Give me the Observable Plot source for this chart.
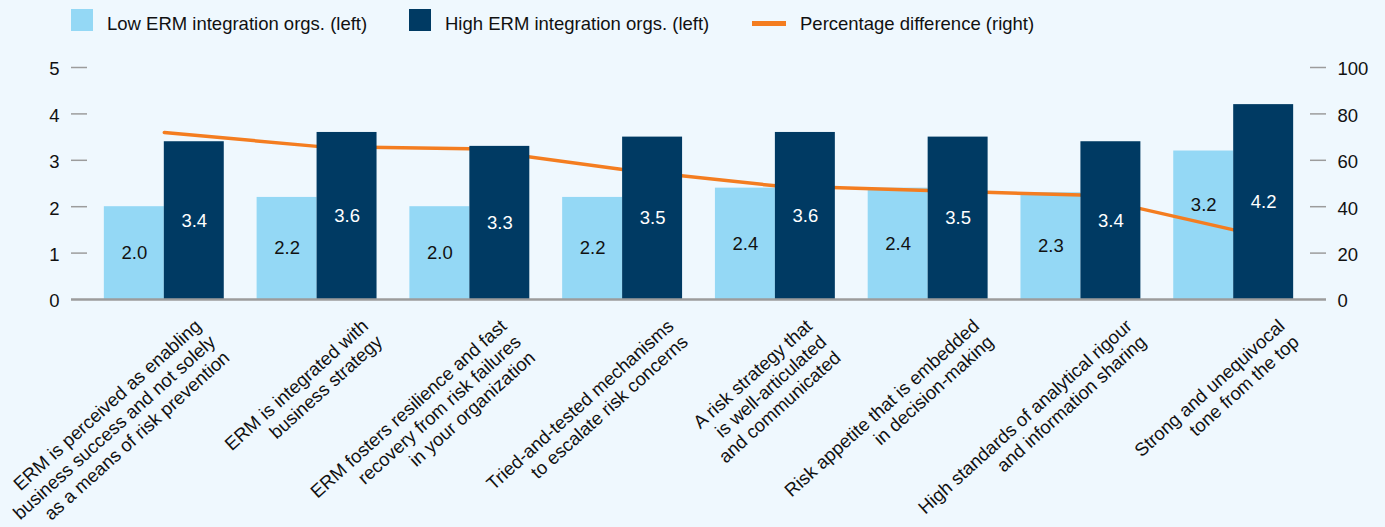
<!DOCTYPE html>
<html>
<head>
<meta charset="utf-8">
<script src="https://cdn.jsdelivr.net/npm/d3@7"></script>
<script src="https://cdn.jsdelivr.net/npm/@observablehq/plot@0.6"></script>
<style>
  html, body { margin: 0; padding: 0; background: #eff8fe; }
  body { width: 1385px; height: 527px; overflow: hidden; font-family: "Liberation Sans", Arial, Helvetica, sans-serif; }
  #legend { position: relative; height: 40px; font-size: 18.5px; color: #111; }
  #legend .sw { position: absolute; }
  #legend .lb { position: absolute; top: 12.6px; line-height: 22px; white-space: nowrap; }
</style>
</head>
<body>
<div id="legend"></div>
<div id="chart"></div>
<script>
// ---- data ----
const categories = [
  "ERM is perceived as enabling\nbusiness success and not solely\nas a means of risk prevention",
  "ERM is integrated with\nbusiness strategy",
  "ERM fosters resilience and fast\nrecovery from risk failures\nin your organization",
  "Tried-and-tested mechanisms\nto escalate risk concerns",
  "A risk strategy that\nis well-articulated\nand communicated",
  "Risk appetite that is embedded\nin decision-making",
  "High standards of analytical rigour\nand information sharing",
  "Strong and unequivocal\ntone from the top"
];
const lowValues  = [2.0, 2.2, 2.0, 2.2, 2.4, 2.4, 2.3, 3.2];
const highValues = [3.4, 3.6, 3.3, 3.5, 3.6, 3.5, 3.4, 4.2];
const pctDiff    = [72, 66, 65, 56, 49, 47, 45, 30];
const leftTicks  = [0, 1, 2, 3, 4, 5];
const rightTickLabels = [0, 20, 40, 60, 80, 100];
const seriesNames = ["Low ERM integration orgs. (left)", "High ERM integration orgs. (left)", "Percentage difference (right)"];

// ---- styles ----
const LIGHT = "#94d8f5", DARK = "#003a63", ORANGE = "#f47d20", GREY = "#9c9c9c";
const FONT = 18.5;
const LINE_H = 1.15;
const ROT = -42;

// legend
const legend = document.getElementById("legend");
const legendItems = [
  {sw: {left: 71, top: 9, width: 22, height: 22, background: LIGHT}, lbLeft: 107},
  {sw: {left: 409, top: 9, width: 22, height: 22, background: DARK}, lbLeft: 445},
  {sw: {left: 752, top: 21, width: 34, height: 5, background: ORANGE}, lbLeft: 800}
];
legendItems.forEach((it, i) => {
  const s = document.createElement("div");
  s.className = "sw";
  Object.entries(it.sw).forEach(([k, v]) => s.style[k] = typeof v === "number" ? v + "px" : v);
  legend.appendChild(s);
  const l = document.createElement("span");
  l.className = "lb";
  l.style.left = it.lbLeft + "px";
  l.textContent = seriesNames[i];
  legend.appendChild(l);
});

// right-axis values are drawn on the left scale (100 ↔ 5)
const RIGHT_TO_LEFT = leftTicks[leftTicks.length - 1] / rightTickLabels[rightTickLabels.length - 1];

// table
const data = categories.map((c, i) => ({category: c, low: lowValues[i], high: highValues[i], pct: pctDiff[i],
  nLines: c.split("\n").length}));

const W = 1385, H = 487, mL = 71, mR = 59, mT = 27, mB = 228;
const PAD = 0.215;
const frameW = W - mL - mR;
const step = frameW / (categories.length - PAD + 2 * PAD);
const half = step * (1 - PAD) / 2;
const tickLen = 16;

// low-value label position: bar middle, lifted above the line where the line crosses it
const lowLabelY = (d, i) => {
  const mid = d.low / 2;
  if (i === 0) return mid;
  const t = (step - half / 2) / step;
  const lineAt = (pctDiff[i - 1] + t * (pctDiff[i] - pctDiff[i - 1])) * RIGHT_TO_LEFT;
  return Math.abs(lineAt - mid) < 0.3 ? lineAt + 0.38 : mid;
};

// rotated category labels: rotated bounding box's top-right at a fixed offset from the band centre
const sinR = Math.sin(-ROT * Math.PI / 180);
const lineCounts = Array.from(new Set(data.map(d => d.nLines)));
const labelMarks = lineCounts.map(n => Plot.text(data.filter(d => d.nLines === n), {
  x: "category", frameAnchor: "bottom", text: "category", rotate: ROT, textAnchor: "end",
  lineAnchor: "top", lineHeight: LINE_H, dx: 70.6 - n * FONT * LINE_H * sinR, dy: 17,
  fill: "#111", fontSize: FONT
}));

const chart = Plot.plot({
  width: W, height: H,
  marginLeft: mL, marginRight: mR, marginTop: mT, marginBottom: mB,
  style: {background: "#eff8fe", fontFamily: '"Liberation Sans", Arial, Helvetica, sans-serif', fontSize: FONT + "px", color: "#111"},
  x: {domain: categories, padding: PAD, round: false, axis: null},
  y: {domain: [0, 5], axis: null},
  marks: [
    // tick dashes
    Plot.ruleY(leftTicks.slice(1), {stroke: GREY, strokeWidth: 1.5, insetRight: frameW - tickLen}),
    Plot.ruleY(leftTicks.slice(1), {stroke: GREY, strokeWidth: 1.5, insetLeft: frameW - tickLen}),
    Plot.axisY(leftTicks, {anchor: "left", tickSize: 0, tickPadding: 12, dy: 2, fill: "#111", fontSize: FONT}),
    Plot.axisY(leftTicks, {anchor: "right", tickSize: 0, tickPadding: 11, dy: 2, fill: "#111", fontSize: FONT,
      tickFormat: d => rightTickLabels[leftTicks.indexOf(d)]}),
    // bars and line
    Plot.barY(data, {x: "category", y: "low", fill: LIGHT, insetRight: half}),
    Plot.lineY(data, {x: "category", y: d => d.pct * RIGHT_TO_LEFT, stroke: ORANGE, strokeWidth: 3.5}),
    Plot.barY(data, {x: "category", y: "high", fill: DARK, insetLeft: half}),
    // baseline
    Plot.ruleY([0], {stroke: GREY, strokeWidth: 2.5}),
    // value labels
    Plot.text(data, {x: "category", y: lowLabelY, text: d => d.low.toFixed(1), dx: -half / 2, fill: "#111", fontSize: FONT}),
    Plot.text(data, {x: "category", y: d => d.high / 2, text: d => d.high.toFixed(1), dx: half / 2, fill: "#fff", fontSize: FONT}),
    ...labelMarks
  ]
});
document.getElementById("chart").appendChild(chart);
</script>
</body>
</html>
